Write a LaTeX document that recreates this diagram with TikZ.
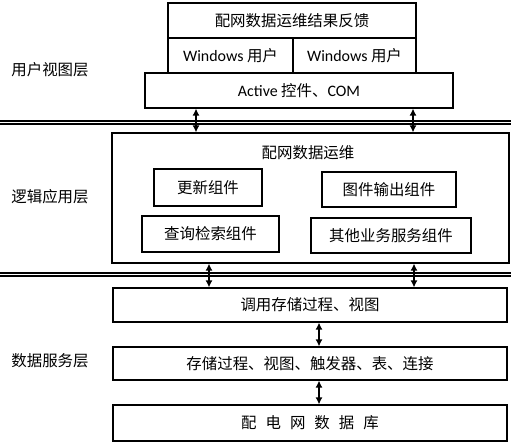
\documentclass[tikz,border=0pt]{standalone}
\usepackage{fontspec}
\setmainfont{Noto Sans CJK SC}
\newfontfamily\lat{Carlito}
\usetikzlibrary{arrows.meta}
\tikzset{
  box/.style={draw, line width=1.2bp, inner sep=0pt, font=\fontsize{15.5}{17}\selectfont},
  arr/.style={line width=1.3bp, {Latex[length=7bp,width=7bp]}-{Latex[length=7bp,width=7bp]}},
  sep/.style={line width=1.1bp},
  lbl/.style={inner sep=0pt, font=\fontsize{15.5}{17}\selectfont}
}
\begin{document}
\begin{tikzpicture}[x=1bp,y=-1bp]
\useasboundingbox (0,0) rectangle (511,444);
% user view layer
\node[box, minimum width=248bp, minimum height=35bp] (fb) at (292,20.5) {配网数据运维结果反馈};
\node[box, minimum width=125bp, minimum height=35bp] (wl) at (230.5,55.5) {{\lat\fontsize{16}{17}\selectfont Windows} 用户};
\node[box, minimum width=123bp, minimum height=35bp] (wr) at (354.5,55.5) {{\lat\fontsize{16}{17}\selectfont Windows} 用户};
\node[box, minimum width=308bp, minimum height=35bp] (ax) at (299,90.5) {{\lat\fontsize{16}{17}\selectfont Active} 控件、{\lat\fontsize{16}{17}\selectfont COM}};
\node[lbl] (l1) at (50,70) {用户视图层};
% separators
\coordinate (s1a) at (0,121); \coordinate (s1b) at (511,121);
\coordinate (s2a) at (0,124); \coordinate (s2b) at (511,124);
\coordinate (s3a) at (0,273); \coordinate (s3b) at (511,273);
\coordinate (s4a) at (0,276); \coordinate (s4b) at (511,276);
\draw[sep] (s1a) -- (s1b);
\draw[sep] (s2a) -- (s2b);
\draw[sep] (s3a) -- (s3b);
\draw[sep] (s4a) -- (s4b);
% logic layer
\node[box, minimum width=397bp, minimum height=130bp] (lg) at (310.5,198) {};
\node[lbl] (lgt) at (308,153) {配网数据运维};
\node[box, minimum width=108bp, minimum height=37bp] (up) at (208,187.5) {更新组件};
\node[box, minimum width=134bp, minimum height=35bp] (gj) at (389,189.5) {图件输出组件};
\node[box, minimum width=137bp, minimum height=36bp] (cx) at (210.5,234) {查询检索组件};
\node[box, minimum width=160bp, minimum height=35bp] (qt) at (391,235.5) {其他业务服务组件};
\node[lbl] (l2) at (50,197) {逻辑应用层};
% data layer
\node[box, minimum width=394bp, minimum height=34bp] (dy) at (310,305) {调用存储过程、视图};
\node[box, minimum width=394bp, minimum height=33bp] (cc) at (310,363.5) {存储过程、视图、触发器、表、连接};
\node[box, minimum width=394bp, minimum height=36bp] (db) at (310,423) {配\hspace{9bp}电\hspace{9bp}网\hspace{9bp}数\hspace{9bp}据\hspace{9bp}库};
\node[lbl] (l3) at (50,361) {数据服务层};
% arrows
\draw[arr] (ax.south -| 196,0) -- (lg.north -| 196,0);
\draw[arr] (ax.south -| 413,0) -- (lg.north -| 413,0);
\draw[arr] (lg.south -| 209,0) -- (dy.north -| 209,0);
\draw[arr] (lg.south -| 414,0) -- (dy.north -| 414,0);
\draw[arr] (dy.south -| 319,0) -- (cc.north -| 319,0);
\draw[arr] (cc.south -| 319,0) -- (db.north -| 319,0);
\end{tikzpicture}
\end{document}
